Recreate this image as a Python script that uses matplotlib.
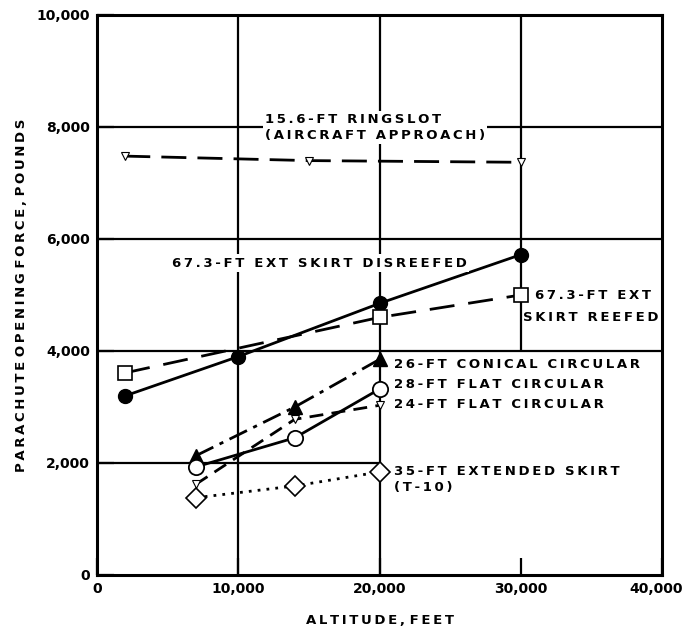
import matplotlib
matplotlib.use("Agg")
import matplotlib.pyplot as plt
from matplotlib.transforms import ScaledTranslation

# ---- data ----
ringslot_x = [2000, 15000, 30000]
ringslot_y = [7480, 7400, 7370]

disreefed_x = [2000, 10000, 20000, 30000]
disreefed_y = [3200, 3900, 4850, 5720]

reefed_x = [2000, 20000, 30000]
reefed_y = [3610, 4600, 5000]

conical_x = [7000, 14000, 20000]
conical_y = [2130, 3000, 3850]

flat28_x = [7000, 14000, 20000]
flat28_y = [1930, 2450, 3320]

flat24_x = [7000, 14000, 20000]
flat24_y = [1620, 2780, 3030]

t10_x = [7000, 14000, 20000]
t10_y = [1380, 1590, 1840]

x_ticks = [0, 10000, 20000, 30000, 40000]
x_tick_labels = ["0", "10,000", "20,000", "30,000", "40,000"]
y_ticks = [0, 2000, 4000, 6000, 8000, 10000]
y_tick_labels = ["0", "2,000", "4,000", "6,000", "8,000", "10,000"]


def spaced(s, around_spaces=True):
    """Imitate the wide letter spacing of the original lettering."""
    lines = []
    for line in s.split("\n"):
        out = ""
        for i, ch in enumerate(line):
            out += ch
            if i + 1 < len(line):
                if around_spaces or (ch != " " and line[i + 1] != " "):
                    out += "\u2009"
        lines.append(out)
    return "\n".join(lines)


FONT = dict(family=["DejaVu Sans"], fontweight="bold", fontsize=9.5)
TICKFONT = dict(family=["DejaVu Sans"], fontweight="bold", fontsize=10)

fig = plt.figure(figsize=(6.85, 6.32), dpi=100)
ax = fig.add_axes([97/685, 1-575/632, (662-97)/685, (575-15)/632])
ax.set_xlim(0, 40000)
ax.set_ylim(0, 10000)

# grid (partial, as in the original)
gkw = dict(color="black", lw=1.6, zorder=1)
ax.vlines([10000, 20000], 0, 10000, **gkw)
ax.vlines([30000], 4000, 10000, **gkw)
ax.hlines([4000, 6000, 8000], 0, 40000, **gkw)
ax.hlines([2000], 0, 20000, **gkw)

for s in ax.spines.values():
    s.set_linewidth(2.2)

ax.set_xticks(x_ticks)
ax.set_xticklabels(x_tick_labels, **TICKFONT)
ax.set_yticks(y_ticks)
ax.set_yticklabels(y_tick_labels, **TICKFONT)
ax.tick_params(direction="in", length=12, width=1.6, pad=5)
# the last x label sits slightly left in the original
lbls = ax.get_xticklabels()
lbls[-1].set_transform(lbls[-1].get_transform() + ScaledTranslation(-6/100, 0, fig.dpi_scale_trans))

ax.set_xlabel(spaced("ALTITUDE, FEET", around_spaces=False), labelpad=13, **FONT)
ax.set_ylabel(spaced("PARACHUTE OPENING FORCE, POUNDS", around_spaces=False), labelpad=6, **FONT)

lw = 2.0
ax.plot(ringslot_x, ringslot_y, color="black", lw=lw, ls=(0, (9, 4)),
        marker="v", ms=6, mfc="white", mec="black", mew=0.8, zorder=3)
ax.plot(disreefed_x, disreefed_y, color="black", lw=lw, ls="-",
        marker="o", ms=10, mfc="black", mec="black", zorder=3)
ax.plot(reefed_x, reefed_y, color="black", lw=lw, ls=(0, (9, 5)),
        marker="s", ms=10, mfc="white", mec="black", mew=1.2, zorder=3)
ax.plot(conical_x, conical_y, color="black", lw=lw, ls=(0, (7, 2.5, 1.5, 2.5)),
        marker="^", ms=10, mfc="black", mec="black", zorder=3)
ax.plot(flat24_x, flat24_y, color="black", lw=lw, ls=(0, (5, 3)),
        marker="v", ms=6, mfc="white", mec="black", mew=0.8, zorder=3)
ax.plot(flat28_x, flat28_y, color="black", lw=lw, ls="-",
        marker="o", ms=11, mfc="white", mec="black", mew=1.3, zorder=4)
ax.plot(t10_x, t10_y, color="black", lw=lw, ls=(0, (1, 2.2)),
        marker="D", ms=10, mfc="white", mec="black", mew=1.2, zorder=3)

bb = dict(facecolor="white", edgecolor="none", pad=1.5)
ax.text(11900, 7990, spaced("15.6-FT RINGSLOT\n(AIRCRAFT APPROACH)"), ha="left", va="center",
        linespacing=1.35, bbox=bb, zorder=5, **FONT)
ax.text(5300, 5570, spaced("67.3-FT EXT SKIRT DISREEFED"), ha="left", va="center",
        bbox=bb, zorder=5, **FONT)
ax.text(31000, 4990, spaced("67.3-FT EXT"), ha="left", va="center", zorder=5, **FONT)
ax.text(30150, 4600, spaced("SKIRT REEFED"), ha="left", va="center", zorder=5, **FONT)
ax.text(21000, 3750, spaced("26-FT CONICAL CIRCULAR"), ha="left", va="center", zorder=5, **FONT)
ax.text(21000, 3400, spaced("28-FT FLAT CIRCULAR"), ha="left", va="center", zorder=5, **FONT)
ax.text(21000, 3050, spaced("24-FT FLAT CIRCULAR"), ha="left", va="center", zorder=5, **FONT)
ax.text(21000, 1700, spaced("35-FT EXTENDED SKIRT\n(T-10)"), ha="left", va="center",
        linespacing=1.3, zorder=5, **FONT)

fig.savefig("out.png", dpi=100)
